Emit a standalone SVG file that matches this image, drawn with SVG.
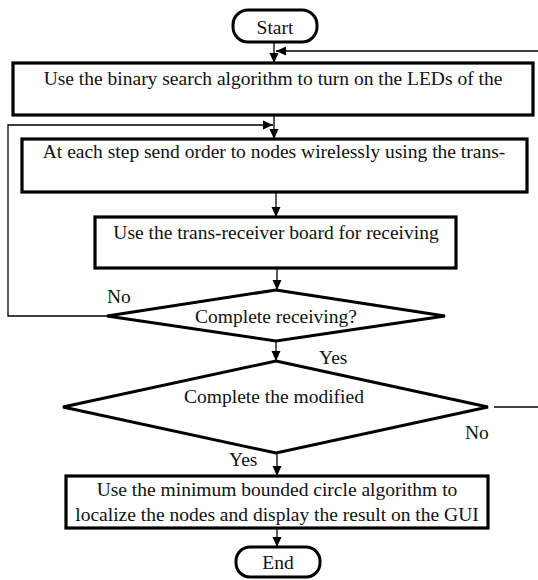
<svg xmlns="http://www.w3.org/2000/svg" width="538" height="580" viewBox="0 0 538 580" font-family="'Liberation Serif', 'Times New Roman', serif">
<defs>
<marker id="arr" markerUnits="userSpaceOnUse" markerWidth="10" markerHeight="10" viewBox="0 0 10 10" refX="10" refY="5" orient="auto">
<path d="M0,0.5 L10,5 L0,9.5 Z" fill="#000"/>
</marker>
<style>
.box{fill:#fff;stroke:#000;stroke-width:3.2}
.term{fill:#fff;stroke:#000;stroke-width:3}
.dia{fill:#fff;stroke:#000;stroke-width:3}
.ln{fill:none;stroke:#000;stroke-width:1.3}
text{font-family:'Liberation Serif','Times New Roman',serif;font-size:19.5px;fill:#111}
.c{text-anchor:middle}
</style>
</defs>
<rect width="538" height="580" fill="#fff"/>
<g id="connectors">
<line class="ln" x1="274" y1="42" x2="274" y2="63" marker-end="url(#arr)"/>
<line class="ln" x1="538" y1="51" x2="276" y2="51" marker-end="url(#arr)"/>
<line class="ln" x1="274" y1="115" x2="274" y2="139" marker-end="url(#arr)"/>
<polyline class="ln" points="107,316 8,316 8,125 273,125" marker-end="url(#arr)"/>
<line class="ln" x1="276" y1="192" x2="276" y2="217" marker-end="url(#arr)"/>
<line class="ln" x1="277" y1="268" x2="277" y2="290" marker-end="url(#arr)"/>
<line class="ln" x1="276" y1="341" x2="276" y2="361" marker-end="url(#arr)"/>
<line class="ln" x1="494" y1="407" x2="538" y2="407"/>
<line class="ln" x1="277" y1="453" x2="277" y2="476" marker-end="url(#arr)"/>
<line class="ln" x1="277" y1="528" x2="277" y2="547" marker-end="url(#arr)"/>
</g>
<g id="start">
<rect class="term" x="233" y="10" width="84" height="32" rx="15"/>
<text class="c" x="275" y="34">Start</text>
</g>
<g id="box1">
<rect class="box" x="13" y="63" width="520" height="52"/>
<text class="c" x="273" y="85">Use the binary search algorithm to turn on the LEDs of the</text>
</g>
<g id="box2">
<rect class="box" x="22" y="139" width="505" height="53"/>
<text class="c" x="274" y="158">At each step send order to nodes wirelessly using the trans-</text>
</g>
<g id="box3">
<rect class="box" x="95" y="217" width="361" height="51"/>
<text class="c" x="276" y="239">Use the trans-receiver board for receiving</text>
</g>
<g id="decision1">
<polygon class="dia" points="276,290 445,316 276,341 107,316"/>
<text class="c" x="276" y="323">Complete receiving?</text>
</g>
<g id="decision2">
<polygon class="dia" points="276,361 488,407 276,453 63,407"/>
<text class="c" x="274" y="403">Complete the modified</text>
</g>
<g id="box4">
<rect class="box" x="66" y="476" width="422" height="52"/>
<text class="c" x="277" y="496">Use the minimum bounded circle algorithm to</text>
<text class="c" x="277" y="521">localize the nodes and display the result on the GUI</text>
</g>
<g id="end">
<rect class="term" x="236" y="547" width="84" height="30" rx="14"/>
<text class="c" x="278" y="569">End</text>
</g>
<g id="labels">
<text x="107" y="303">No</text>
<text x="319" y="364">Yes</text>
<text x="465" y="439">No</text>
<text x="229" y="466">Yes</text>
</g>
</svg>
